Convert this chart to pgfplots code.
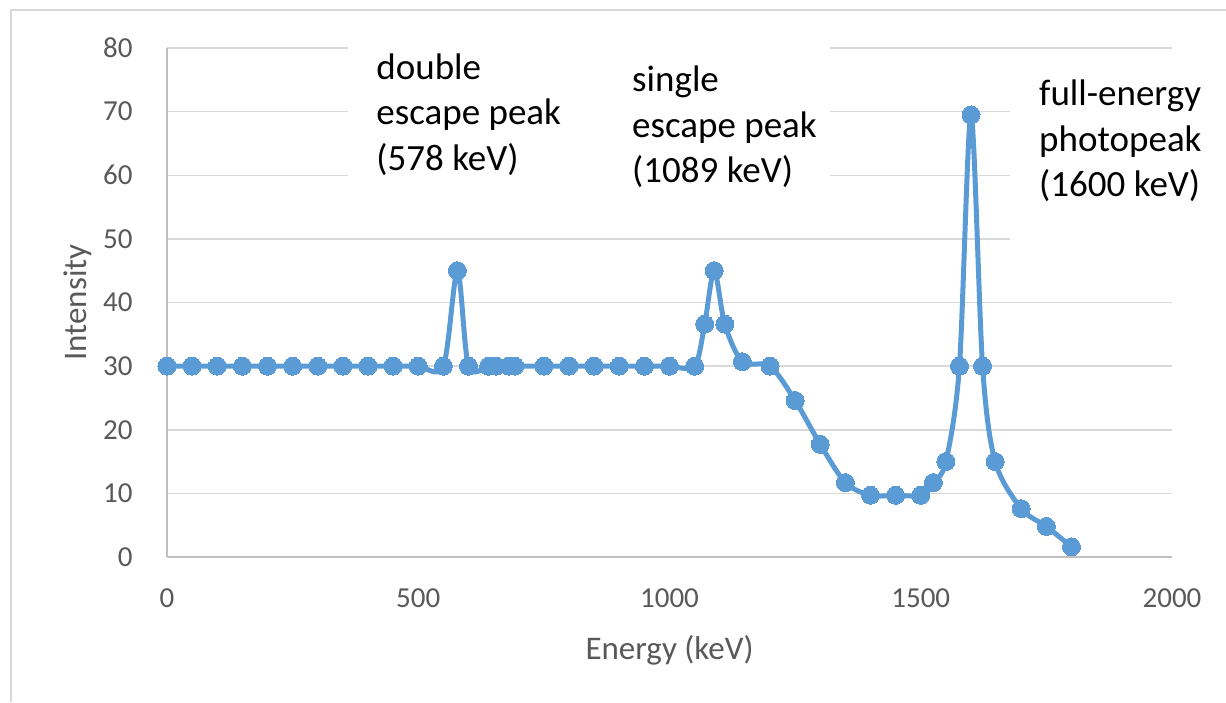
\documentclass[border=0pt]{standalone}
\usepackage{pgfplots}
\pgfplotsset{compat=1.18}
\usepackage{fontspec}
\setmainfont{Carlito}
\definecolor{serieblue}{HTML}{5B9BD5}
\definecolor{gridgray}{HTML}{D9D9D9}
\definecolor{axisgray}{HTML}{BFBFBF}
\definecolor{labelgray}{HTML}{595959}
\begin{document}
\begin{tikzpicture}
\useasboundingbox (-83.5pt,-72.5pt) rectangle (529.5pt,278.5pt);
\draw[gridgray, line width=1pt] (-78pt,-72.5pt) -- (-78pt,273.5pt) -- (529.5pt,273.5pt);
\begin{axis}[
  scale only axis,
  width=502.5pt, height=254.5pt,
  xmin=0, xmax=2000, ymin=0, ymax=80,
  xtick={0,500,1000,1500,2000},
  ytick={0,10,20,30,40,50,60,70,80},
  axis line style={draw=none},
  major tick length=0pt,
  ymajorgrids,
  grid style={gridgray, line width=0.75pt},
  clip=false,
  /pgf/number format/assume math mode=true,
  /pgf/number format/set thousands separator={},
  tick label style={font=\fontsize{14.5}{16}\selectfont, text=labelgray},
  xticklabel style={inner sep=0pt, anchor=north, yshift=-15.5pt},
  yticklabel style={inner sep=0pt, anchor=east, xshift=-17pt},
  xlabel={Energy (keV)},
  ylabel={Intensity},
  label style={font=\fontsize{16.5}{19}\selectfont, text=labelgray},
  xlabel style={at={(axis description cs:0.5,0)}, anchor=center, yshift=-46.5pt},
  ylabel style={at={(axis description cs:0,0.5)}, anchor=center, yshift=44.5pt},
]
% white boxes behind annotations (hide gridlines)
\fill[white] (axis cs:360,56) rectangle (axis cs:1319,81.5);
\fill[white] (axis cs:1678,46.5) rectangle (axis cs:2110,79);
% axis lines
\draw[axisgray, line width=0.9pt] (axis cs:0,0) -- (axis cs:2000,0);
\draw[axisgray, line width=0.9pt] (axis cs:0,0) -- (axis cs:0,80);
\addplot[serieblue, line width=2.5pt, smooth, tension=0.5,
  mark=*, mark size=4.5pt, mark options={fill=serieblue, draw=serieblue, line width=0pt}]
  table[row sep=\\] {
x y\\
0 30\\
50 30\\
100 30\\
150 30\\
200 30\\
250 30\\
300 30\\
350 30\\
400 30\\
450 30\\
500 30\\
550 30\\
578 45\\
600 30\\
640 30\\
655 30\\
680 30\\
692 30\\
750 30\\
800 30\\
850 30\\
900 30\\
950 30\\
1000 30\\
1050 30\\
1070 36.6\\
1089 45\\
1110 36.6\\
1145 30.7\\
1200 30\\
1250 24.6\\
1300 17.7\\
1350 11.7\\
1400 9.7\\
1450 9.7\\
1500 9.7\\
1525 11.7\\
1550 15\\
1577 30\\
1600 69.5\\
1623 30\\
1648 15\\
1700 7.6\\
1750 4.8\\
1800 1.6\\
};
\begin{scope}[every node/.style={anchor=base west, inner sep=0pt, font=\fontsize{18.5}{22}\selectfont}]
\node at (axis cs:416,75.0) {double};
\node at (axis cs:416,67.9) {escape peak};
\node at (axis cs:416,60.7) {(578 keV)};
\node at (axis cs:925,73.2) {single};
\node at (axis cs:925,66.0) {escape peak};
\node at (axis cs:925,58.8) {(1089 keV)};
\node at (axis cs:1735,71.0) {full-energy};
\node at (axis cs:1735,63.8) {photopeak};
\node at (axis cs:1735,56.6) {(1600 keV)};
\end{scope}
\end{axis}
\end{tikzpicture}
\end{document}
